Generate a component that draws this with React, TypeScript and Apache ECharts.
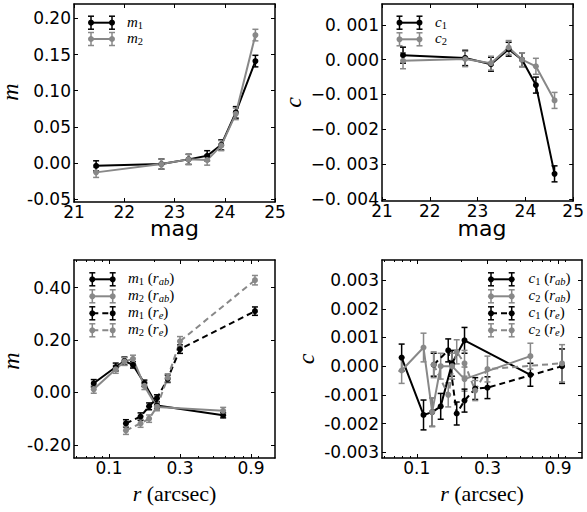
import React, { useEffect, useRef } from "react";
import * as echarts from "echarts";

// ---------------- data ----------------
const magBins = [21.44, 22.74, 23.28, 23.65, 23.93, 24.22, 24.61];
const m1Mag = [-0.004, -0.0015, 0.005, 0.01, 0.025, 0.07, 0.141];
const m1MagErr = [0.007, 0.007, 0.007, 0.007, 0.007, 0.008, 0.008];
const m2Mag = [-0.013, -0.0015, 0.005, 0.004, 0.024, 0.068, 0.177];
const m2MagErr = [0.007, 0.007, 0.007, 0.007, 0.007, 0.008, 0.008];
const c1Mag = [0.00013, 0.00005, -0.00013, 0.0003, 0.0, -0.00073, -0.00328];
const c1MagErr = [0.00023, 0.00022, 0.0002, 0.0002, 0.0002, 0.00023, 0.00023];
const c2Mag = [-0.00003, 0.00002, -0.0001, 0.00035, 0.0, -0.00019, -0.00117];
const c2MagErr = [0.00023, 0.00022, 0.0002, 0.0002, 0.0002, 0.00023, 0.00023];

const rAb = [0.079, 0.111, 0.127, 0.145, 0.173, 0.21, 0.585];
const rE = [0.13, 0.163, 0.186, 0.21, 0.248, 0.3, 0.957];
const m1Rab = [0.035, 0.097, 0.12, 0.105, 0.035, -0.05, -0.087];
const m1RabErr = [0.014, 0.015, 0.015, 0.012, 0.012, 0.012, 0.01];
const m2Rab = [0.012, 0.088, 0.118, 0.128, 0.025, -0.056, -0.07];
const m2RabErr = [0.015, 0.015, 0.015, 0.014, 0.014, 0.013, 0.013];
const m1Re = [-0.118, -0.092, -0.053, -0.022, 0.052, 0.165, 0.31];
const m1ReErr = [0.014, 0.014, 0.013, 0.013, 0.014, 0.016, 0.016];
const m2Re = [-0.145, -0.118, -0.1, -0.055, 0.056, 0.195, 0.428];
const m2ReErr = [0.015, 0.015, 0.014, 0.014, 0.015, 0.018, 0.018];

const c1Rab = [0.0003, -0.0017, -0.0016, -0.0014, 0.0001, 0.0009, -0.0003];
const c1RabErr = [0.00047, 0.00052, 0.0005, 0.00045, 0.00045, 0.00045, 0.0004];
const c2Rab = [-0.00015, 0.00065, -0.0016, 0.0, 0.0, -0.00045, 0.00035];
const c2RabErr = [0.00045, 0.0005, 0.0005, 0.00045, 0.00045, 0.00042, 0.00045];
const c1Re = [0.00005, 0.00055, -0.00165, -0.0012, -0.00078, -0.00075, 0.0];
const c1ReErr = [0.0004, 0.0004, 0.0004, 0.0004, 0.00038, 0.00038, 0.0006];
const c2Re = [0.00005, -0.001, 0.0005, 0.0001, -0.00085, -0.0001, 0.0001];
const c2ReErr = [0.00045, 0.00042, 0.00042, 0.00045, 0.00035, 0.00045, 0.00065];

const magTicks = [21, 22, 23, 24, 25];
const magTickLabels = ["21", "22", "23", "24", "25"];
const mMagTicks = [-0.05, 0, 0.05, 0.1, 0.15, 0.2];
const mMagTickLabels = ["-0.05", "0.00", "0.05", "0.10", "0.15", "0.20"];
const cMagTicks = [-0.004, -0.003, -0.002, -0.001, 0, 0.001];
const cMagTickLabels = ["\u22120. 004", "\u22120. 003", "\u22120. 002", "\u22120. 001", "0. 000", "0. 001"];
const rTicks = [0.1, 0.3, 0.9];
const rTickLabels = ["0.1", "0.3", "0.9"];
const rMinorTicks = [0.06, 0.07, 0.08, 0.09, 0.2, 0.4, 0.5, 0.6, 0.7, 0.8, 1.0];
const mRTicks = [-0.2, 0, 0.2, 0.4];
const mRTickLabels = ["-0.20", "0.00", "0.20", "0.40"];
const cRTicks = [-0.003, -0.002, -0.001, 0, 0.001, 0.002, 0.003];
const cRTickLabels = ["-0.003", "-0.002", "-0.001", "0.000", "0.001", "0.002", "0.003"];

// ---------------- styling ----------------
const BLACK = "#000000";
const GRAY = "#888888";
const TICK_FONT = "DejaVu Sans";
const SERIF = "Liberation Serif";

function nearestLabel(ticks: number[], labels: string[]) {
  return (v: number) => {
    let b = 0;
    for (let i = 1; i < ticks.length; i++) {
      if (Math.abs(ticks[i] - v) < Math.abs(ticks[b] - v)) b = i;
    }
    return labels[b];
  };
}

function errRender(color: string) {
  return (params: any, api: any) => {
    const x = api.value(0);
    const y = api.value(1);
    const e = api.value(2);
    const top = api.coord([x, y + e]);
    const bot = api.coord([x, y - e]);
    const cw = 3;
    const st = { stroke: color, lineWidth: 1.5 };
    return {
      type: "group",
      children: [
        { type: "line", shape: { x1: top[0], y1: top[1], x2: bot[0], y2: bot[1] }, style: st },
        { type: "line", shape: { x1: top[0] - cw, y1: top[1], x2: top[0] + cw, y2: top[1] }, style: st },
        { type: "line", shape: { x1: bot[0] - cw, y1: bot[1], x2: bot[0] + cw, y2: bot[1] }, style: st },
      ],
    };
  };
}

type SeriesDef = { x: number[]; y: number[]; e: number[]; color: string; dashed: boolean };
type PanelDef = {
  grid: { left: number; top: number; width: number; height: number };
  xType: "value" | "log";
  xMin: number;
  xMax: number;
  xTicks: number[];
  xLabels: string[];
  xMinor: number[] | null;
  yMin: number;
  yMax: number;
  yTicks: number[];
  yLabels: string[];
  series: SeriesDef[];
};

const legendRich = {
  i: { fontFamily: SERIF, fontStyle: "italic", fontSize: 15, lineHeight: 18, color: "#000" },
  u: { fontFamily: SERIF, fontSize: 15, lineHeight: 18, color: "#000" },
  s: { fontFamily: SERIF, fontSize: 10.5, lineHeight: 8, verticalAlign: "bottom", color: "#000" },
  si: { fontFamily: SERIF, fontStyle: "italic", fontSize: 10.5, lineHeight: 8, verticalAlign: "bottom", color: "#000" },
};

const titleRich = {
  i: { fontFamily: SERIF, fontStyle: "italic", fontSize: 22, lineHeight: 22, color: "#000" },
  u: { fontFamily: SERIF, fontSize: 22, lineHeight: 22, color: "#000" },
};

function buildOption() {
  const panels: PanelDef[] = [
    {
      grid: { left: 74, top: 4, width: 201, height: 198 },
      xType: "value", xMin: 21, xMax: 25, xTicks: magTicks, xLabels: magTickLabels, xMinor: null,
      yMin: -0.054, yMax: 0.22, yTicks: mMagTicks, yLabels: mMagTickLabels,
      series: [
        { x: magBins, y: m1Mag, e: m1MagErr, color: BLACK, dashed: false },
        { x: magBins, y: m2Mag, e: m2MagErr, color: GRAY, dashed: false },
      ],
    },
    {
      grid: { left: 382, top: 4, width: 200, height: 197 },
      xType: "value", xMin: 21, xMax: 25, xTicks: magTicks, xLabels: magTickLabels, xMinor: null,
      yMin: -0.00406, yMax: 0.0016, yTicks: cMagTicks, yLabels: cMagTickLabels,
      series: [
        { x: magBins, y: c1Mag, e: c1MagErr, color: BLACK, dashed: false },
        { x: magBins, y: c2Mag, e: c2MagErr, color: GRAY, dashed: false },
      ],
    },
    {
      grid: { left: 74, top: 260, width: 201, height: 198 },
      xType: "log", xMin: 0.0582, xMax: 1.305, xTicks: rTicks, xLabels: rTickLabels, xMinor: rMinorTicks,
      yMin: -0.25, yMax: 0.505, yTicks: mRTicks, yLabels: mRTickLabels,
      series: [
        { x: rAb, y: m1Rab, e: m1RabErr, color: BLACK, dashed: false },
        { x: rAb, y: m2Rab, e: m2RabErr, color: GRAY, dashed: false },
        { x: rE, y: m1Re, e: m1ReErr, color: BLACK, dashed: true },
        { x: rE, y: m2Re, e: m2ReErr, color: GRAY, dashed: true },
      ],
    },
    {
      grid: { left: 382, top: 260, width: 200, height: 198 },
      xType: "log", xMin: 0.0582, xMax: 1.305, xTicks: rTicks, xLabels: rTickLabels, xMinor: rMinorTicks,
      yMin: -0.0032, yMax: 0.0037, yTicks: cRTicks, yLabels: cRTickLabels,
      series: [
        { x: rAb, y: c1Rab, e: c1RabErr, color: BLACK, dashed: false },
        { x: rAb, y: c2Rab, e: c2RabErr, color: GRAY, dashed: false },
        { x: rE, y: c1Re, e: c1ReErr, color: BLACK, dashed: true },
        { x: rE, y: c2Re, e: c2ReErr, color: GRAY, dashed: true },
      ],
    },
  ];

  const grids: any[] = [];
  const xAxes: any[] = [];
  const yAxes: any[] = [];
  const series: any[] = [];
  const axisLineStyle = { color: "#000", width: 1.5 };
  const tickLine = { color: "#000", width: 1 };

  panels.forEach((p, g) => {
    grids.push({ ...p.grid, containLabel: false });
    const xBase: any = {
      gridIndex: g,
      type: p.xType,
      min: p.xMin,
      max: p.xMax,
      splitLine: { show: false },
      minorTick: { show: false },
      minorSplitLine: { show: false },
    };
    if (p.xType === "log") xBase.logBase = 10;
    const mainX = xAxes.length;
    xAxes.push({
      ...xBase,
      position: "bottom",
      axisLine: { show: true, onZero: false, lineStyle: axisLineStyle },
      axisTick: { show: true, inside: true, length: 4, lineStyle: tickLine, customValues: p.xTicks },
      axisLabel: {
        show: true,
        customValues: p.xTicks,
        formatter: nearestLabel(p.xTicks, p.xLabels),
        fontSize: 17,
        lineHeight: 13,
        fontFamily: TICK_FONT,
        color: "#000",
        margin: 3,
      },
    });
    xAxes.push({
      ...xBase,
      position: "top",
      axisLine: { show: true, onZero: false, lineStyle: axisLineStyle },
      axisTick: { show: true, inside: true, length: 4, lineStyle: tickLine, customValues: p.xTicks },
      axisLabel: { show: false },
    });
    if (p.xMinor) {
      for (const pos of ["bottom", "top"]) {
        xAxes.push({
          ...xBase,
          position: pos,
          axisLine: { show: false, onZero: false },
          axisTick: { show: true, inside: true, length: 2, lineStyle: tickLine, customValues: p.xMinor },
          axisLabel: { show: false },
        });
      }
    }
    const mainY = yAxes.length;
    const yBase: any = {
      gridIndex: g,
      type: "value",
      min: p.yMin,
      max: p.yMax,
      splitLine: { show: false },
    };
    yAxes.push({
      ...yBase,
      position: "left",
      axisLine: { show: true, onZero: false, lineStyle: axisLineStyle },
      axisTick: { show: true, inside: true, length: 4, lineStyle: tickLine, customValues: p.yTicks },
      axisLabel: {
        show: true,
        customValues: p.yTicks,
        formatter: nearestLabel(p.yTicks, p.yLabels),
        fontSize: 17,
        lineHeight: 13,
        fontFamily: TICK_FONT,
        color: "#000",
        margin: 3,
      },
    });
    yAxes.push({
      ...yBase,
      position: "right",
      axisLine: { show: true, onZero: false, lineStyle: axisLineStyle },
      axisTick: { show: true, inside: true, length: 4, lineStyle: tickLine, customValues: p.yTicks },
      axisLabel: { show: false },
    });

    p.series.forEach((s) => {
      series.push({
        type: "custom",
        xAxisIndex: mainX,
        yAxisIndex: mainY,
        data: s.x.map((x, i) => [x, s.y[i], s.e[i]]),
        encode: { x: 0, y: 1 },
        renderItem: errRender(s.color),
        silent: true,
        z: 2,
      });
      series.push({
        type: "line",
        xAxisIndex: mainX,
        yAxisIndex: mainY,
        data: s.x.map((x, i) => [x, s.y[i]]),
        symbol: "circle",
        symbolSize: 6,
        showSymbol: true,
        lineStyle: { color: s.color, width: 2, type: s.dashed ? [6, 4] : "solid" },
        itemStyle: { color: s.color },
        silent: true,
        z: 3,
      });
    });
  });

  // ---- legends and titles ----
  const graphics: any[] = [];
  type LegendEntry = { text: string; color: string; dashed: boolean };
  const addLegend = (capL: number, capR: number, rows: number[], textX: number, entries: LegendEntry[]) => {
    entries.forEach((en, k) => {
      const y = rows[k];
      const st = { stroke: en.color, lineWidth: 1.5 };
      graphics.push({
        type: "line",
        shape: { x1: capL, y1: y, x2: capR, y2: y },
        style: { stroke: en.color, lineWidth: 2, lineDash: en.dashed ? [6, 4] : null },
      });
      [capL, capR].forEach((cx) => {
        graphics.push({ type: "line", shape: { x1: cx, y1: y - 6.5, x2: cx, y2: y + 6.5 }, style: st });
        graphics.push({ type: "line", shape: { x1: cx - 3, y1: y - 6.5, x2: cx + 3, y2: y - 6.5 }, style: st });
        graphics.push({ type: "line", shape: { x1: cx - 3, y1: y + 6.5, x2: cx + 3, y2: y + 6.5 }, style: st });
        graphics.push({ type: "circle", shape: { cx, cy: y, r: 3 }, style: { fill: en.color } });
      });
      graphics.push({
        type: "text",
        x: textX,
        y: y - 1,
        style: { text: en.text, rich: legendRich, textAlign: "left", textVerticalAlign: "middle" },
      });
    });
  };
  addLegend(91, 112, [22.7, 39], 127, [
    { text: "{i|m}{s|1}", color: BLACK, dashed: false },
    { text: "{i|m}{s|2}", color: GRAY, dashed: false },
  ]);
  addLegend(399.5, 419.5, [22.7, 39.3], 435, [
    { text: "{i|c}{s|1}", color: BLACK, dashed: false },
    { text: "{i|c}{s|2}", color: GRAY, dashed: false },
  ]);
  addLegend(92.3, 112.7, [279.3, 296.3, 313.3, 330.3], 128, [
    { text: "{i|m}{s|1}{u| (}{i|r}{si|ab}{u|)}", color: BLACK, dashed: false },
    { text: "{i|m}{s|2}{u| (}{i|r}{si|ab}{u|)}", color: GRAY, dashed: false },
    { text: "{i|m}{s|1}{u| (}{i|r}{si|e}{u|)}", color: BLACK, dashed: true },
    { text: "{i|m}{s|2}{u| (}{i|r}{si|e}{u|)}", color: GRAY, dashed: true },
  ]);
  addLegend(491, 511.7, [279.3, 296.3, 313.3, 330.3], 528.5, [
    { text: "{i|c}{s|1}{u| (}{i|r}{si|ab}{u|)}", color: BLACK, dashed: false },
    { text: "{i|c}{s|2}{u| (}{i|r}{si|ab}{u|)}", color: GRAY, dashed: false },
    { text: "{i|c}{s|1}{u| (}{i|r}{si|e}{u|)}", color: BLACK, dashed: true },
    { text: "{i|c}{s|2}{u| (}{i|r}{si|e}{u|)}", color: GRAY, dashed: true },
  ]);

  // x-axis titles
  const xTitle = (x: number, y: number, text: string) =>
    graphics.push({
      type: "text",
      x,
      y,
      style: {
        text,
        fontFamily: TICK_FONT,
        fontSize: 22,
        lineHeight: 18,
        fill: "#000",
        textAlign: "center",
        textVerticalAlign: "middle",
      },
    });
  xTitle(174.5, 228, "mag");
  xTitle(482, 228, "mag");
  const rTitle = (x: number, y: number) =>
    graphics.push({
      type: "text",
      x,
      y,
      style: { text: "{i|r}{u| (arcsec)}", rich: titleRich, textAlign: "center", textVerticalAlign: "middle" },
    });
  rTitle(174.5, 493.5);
  rTitle(482, 493.5);

  // y-axis titles
  const yTitle = (x: number, y: number, text: string) =>
    graphics.push({
      type: "text",
      x,
      y,
      rotation: Math.PI / 2,
      style: {
        text,
        fontFamily: SERIF,
        fontStyle: "italic",
        fontSize: 24,
        lineHeight: 14,
        fill: "#000",
        textAlign: "center",
        textVerticalAlign: "middle",
      },
    });
  yTitle(10, 92, "m");
  yTitle(293.4, 102.5, "c");
  yTitle(10.5, 361, "m");
  yTitle(306.4, 359, "c");

  return {
    animation: false,
    backgroundColor: "#ffffff",
    grid: grids,
    xAxis: xAxes,
    yAxis: yAxes,
    series,
    graphic: { elements: graphics },
  };
}

export default function App() {
  const ref = useRef<HTMLDivElement>(null);
  useEffect(() => {
    if (!ref.current) return;
    const chart = echarts.init(ref.current, undefined, { renderer: "svg" });
    chart.setOption(buildOption() as any);
    return () => chart.dispose();
  }, []);
  return (
    <div
      ref={ref}
      style={{ position: "absolute", left: 0, top: 0, width: 587, height: 512, background: "#fff" }}
    />
  );
}
